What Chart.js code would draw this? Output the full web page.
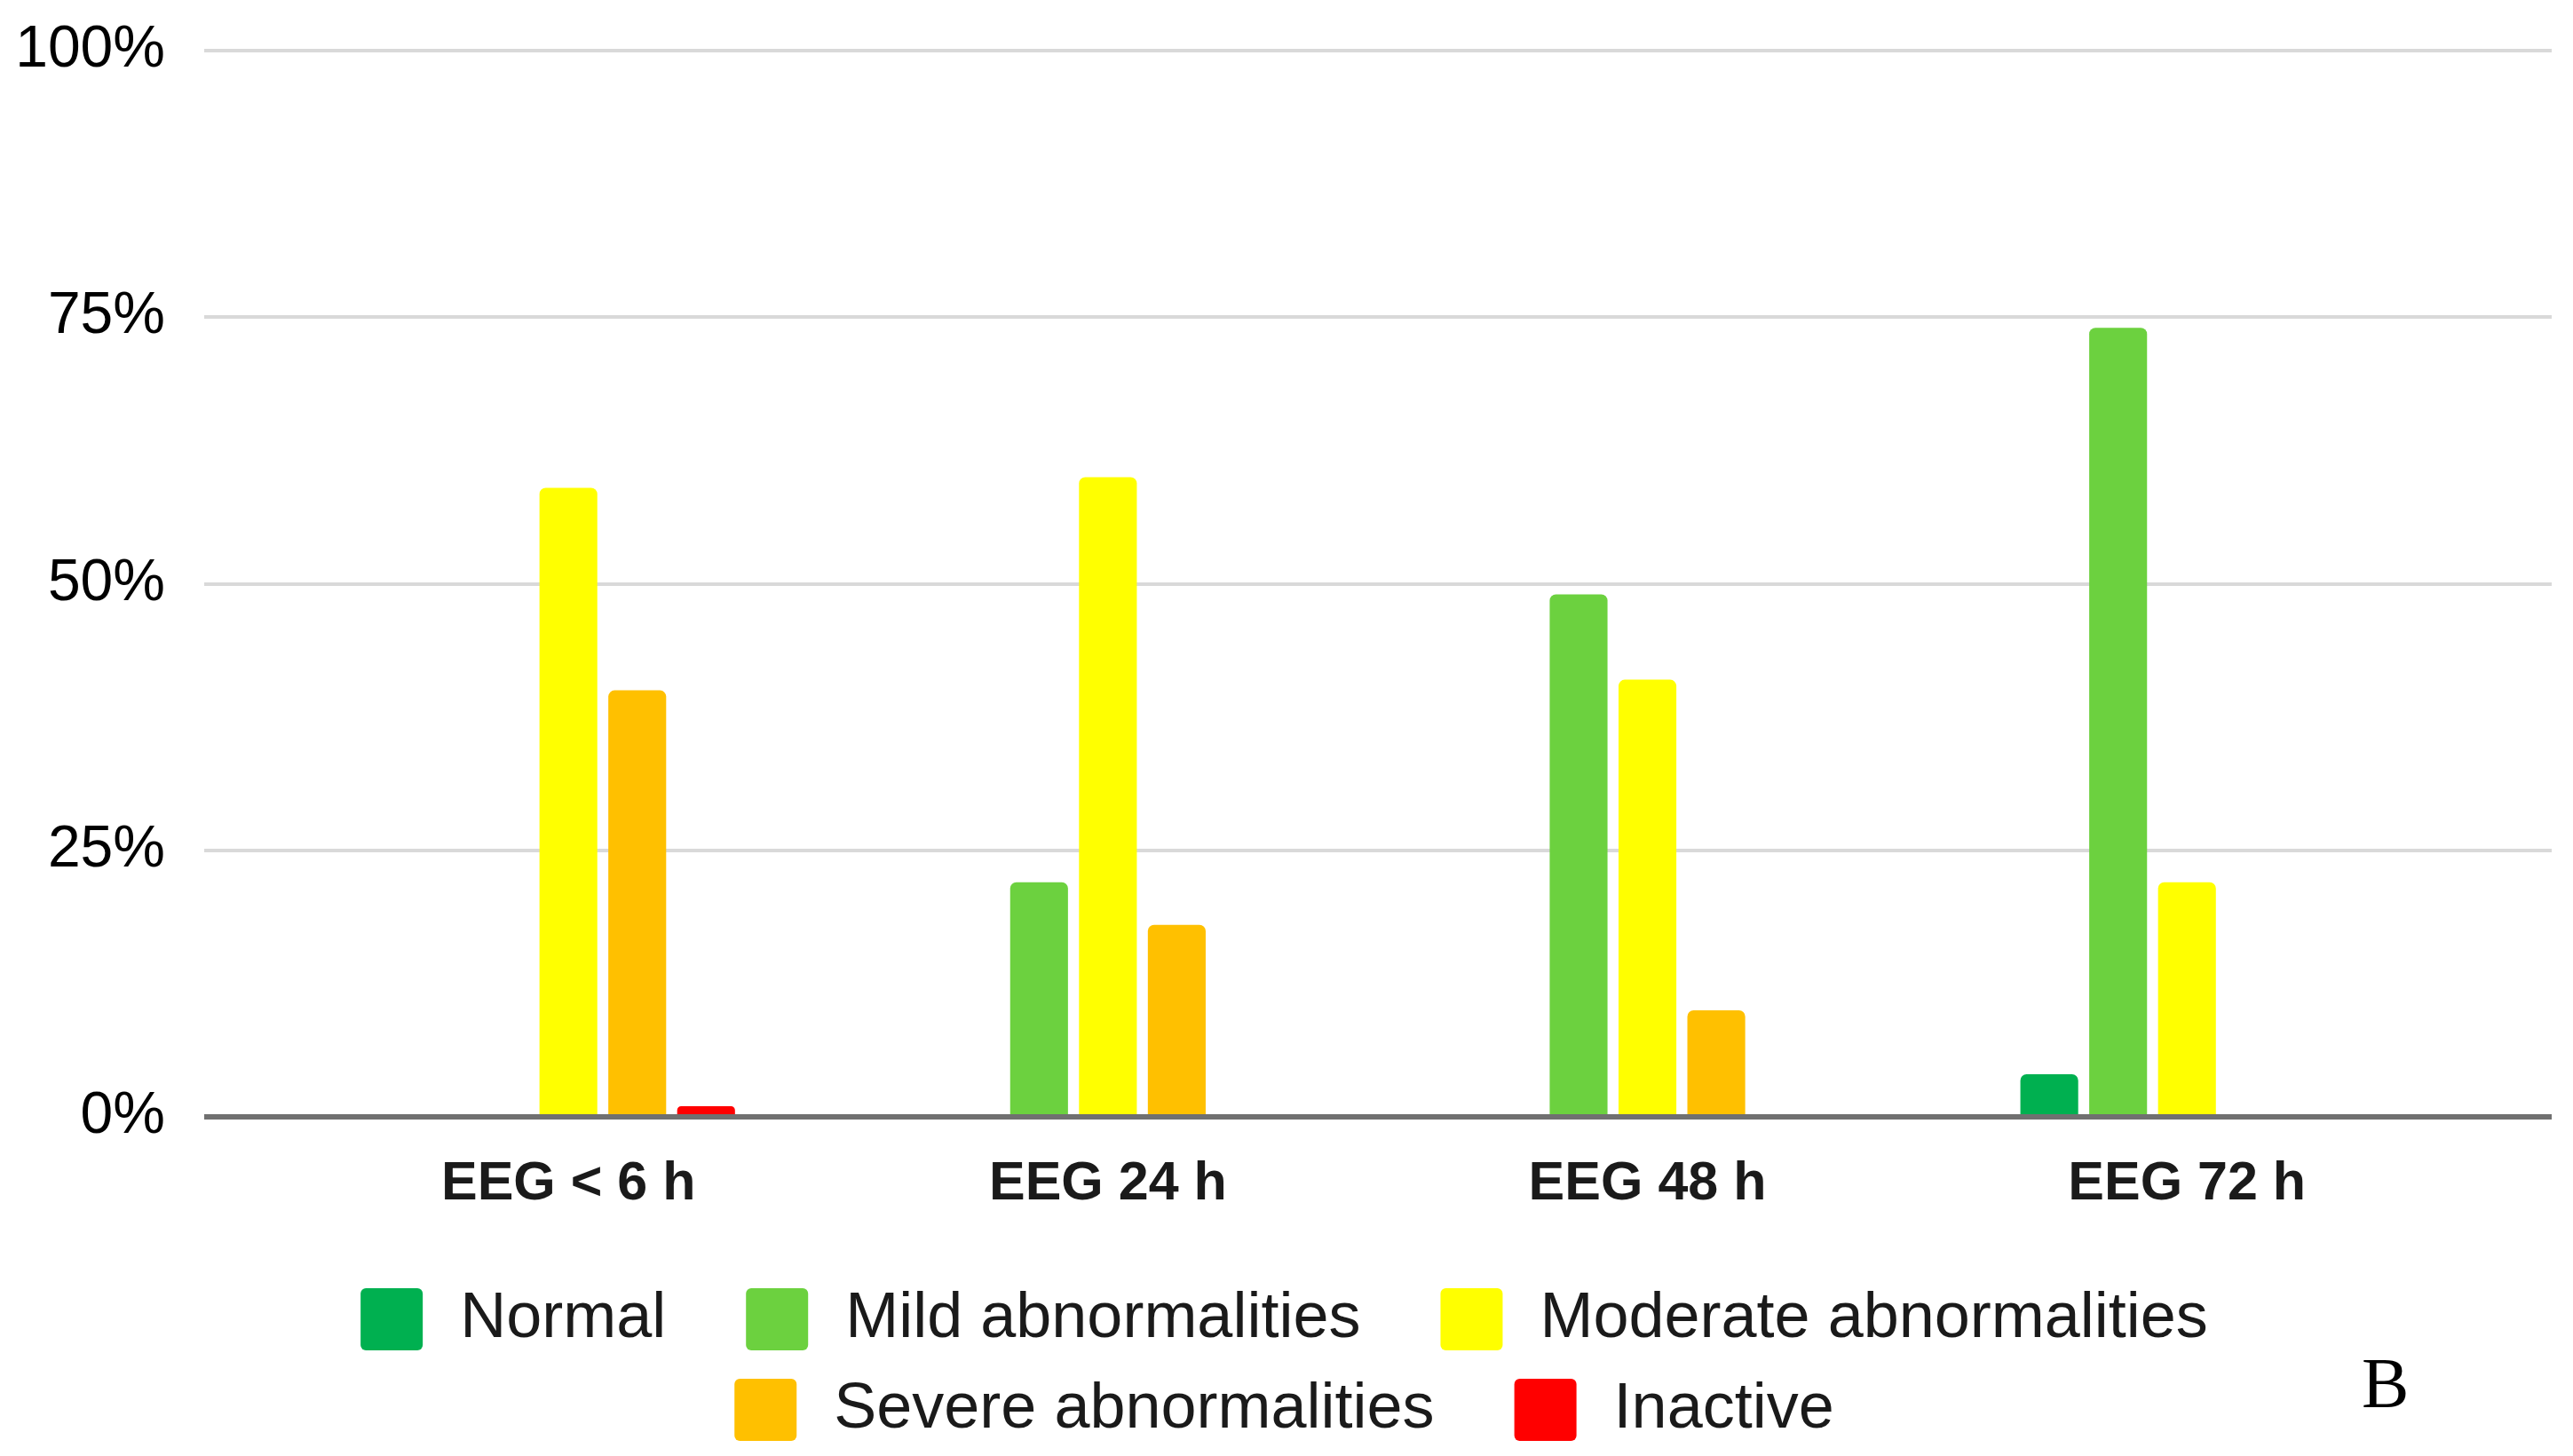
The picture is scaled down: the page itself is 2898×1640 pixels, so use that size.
<!DOCTYPE html>
<html><head><meta charset="utf-8">
<script src="https://cdn.jsdelivr.net/npm/chart.js@4.4.1/dist/chart.umd.min.js"></script>
<style>html,body{margin:0;padding:0;background:#fff;}#wrap{width:2898px;height:1640px;position:relative;}</style>
</head><body><div id="wrap"><canvas id="c"></canvas></div>
<script>
const categories = ['EEG < 6 h', 'EEG 24 h', 'EEG 48 h', 'EEG 72 h'];
const seriesNames = ['Normal', 'Mild abnormalities', 'Moderate abnormalities', 'Severe abnormalities', 'Inactive'];
const normal = [0, 0, 0, 4];
const mild = [0, 22, 49, 74];
const moderate = [59, 60, 41, 22];
const severe = [40, 18, 10, 0];
const inactive = [1, 0, 0, 0];
const yTicks = [0, 25, 50, 75, 100];
const seriesColors = ['#00B050', '#6CD13F', '#FFFF00', '#FFC000', '#FF0000'];
const panelLetter = 'B';

const seriesValues = [normal, mild, moderate, severe, inactive];

const datasets = seriesValues.map((vals, s) => ({
  label: seriesNames[s],
  data: vals.map((v, i) => ({ x: i, y: v })),
  backgroundColor: seriesColors[s],
  borderWidth: 0,
  borderRadius: { topLeft: 7, topRight: 7, bottomLeft: 0, bottomRight: 0 },
  borderSkipped: false,
  categoryPercentage: 0.638,
  barPercentage: 0.84
}));

const letterPlugin = {
  id: 'letter',
  afterLayout(chart) {
    if (chart.legend) { chart.legend.left = 79; }
  },
  afterDraw(chart) {
    const ctx = chart.ctx;
    ctx.save();
    ctx.fillStyle = '#000';
    ctx.font = '80px "Liberation Serif", "DejaVu Serif", serif';
    ctx.textAlign = 'left';
    ctx.textBaseline = 'alphabetic';
    ctx.fillText(panelLetter, 2660, 1585);
    ctx.restore();
  }
};

new Chart(document.getElementById('c'), {
  type: 'bar',
  data: { datasets },
  plugins: [letterPlugin],
  options: {
    responsive: true,
    maintainAspectRatio: false,
    devicePixelRatio: 1,
    animation: false,
    layout: { padding: { top: 57, right: 24, bottom: 6, left: 0 } },
    scales: {
      x: {
        type: 'linear',
        min: -0.675,
        max: 3.676,
        offset: false,
        grid: { display: false, offset: false, drawTicks: false },
        border: { display: false },
        afterBuildTicks(scale) { scale.ticks = categories.map((c, i) => ({ value: i })); },
        afterFit(scale) { scale.height = 162; scale.paddingLeft = 0; scale.paddingRight = 0; },
        ticks: {
          autoSkip: false,
          maxRotation: 0,
          padding: 40,
          color: '#1a1a1a',
          font: { family: '"Liberation Sans", Arial, sans-serif', size: 61, weight: 'bold' },
          callback: (v) => categories[v]
        }
      },
      y: {
        min: 0,
        max: 100,
        afterBuildTicks(scale) { scale.ticks = yTicks.map(v => ({ value: v })); },
        afterFit(scale) { scale.width = 230; scale.paddingTop = 0; scale.paddingBottom = 0; },
        border: { display: false },
        grid: {
          drawTicks: false,
          color: (c) => c.tick && c.tick.value === 0 ? '#707070' : '#d9d9d9',
          lineWidth: (c) => c.tick && c.tick.value === 0 ? 6 : 4
        },
        ticks: {
          padding: 44,
          color: '#000',
          font: { family: '"Liberation Sans", Arial, sans-serif', size: 66 },
          callback: (v) => v + '%'
        }
      }
    },
    plugins: {
      tooltip: { enabled: false },
      legend: {
        position: 'bottom',
        labels: {
          boxWidth: 70,
          boxHeight: 70,
          padding: 30,
          useBorderRadius: true,
          borderRadius: 6,
          color: '#1a1a1a',
          font: { family: '"Liberation Sans", Arial, sans-serif', size: 72 },
          generateLabels(chart) {
            const items = Chart.defaults.plugins.legend.labels.generateLabels(chart);
            return items.map(it => Object.assign(it, { text: '\u200A' + it.text + '\u00A0\u00A0\u00A0', lineWidth: 0 }));
          }
        }
      }
    }
  }
});
</script>
</body></html>
